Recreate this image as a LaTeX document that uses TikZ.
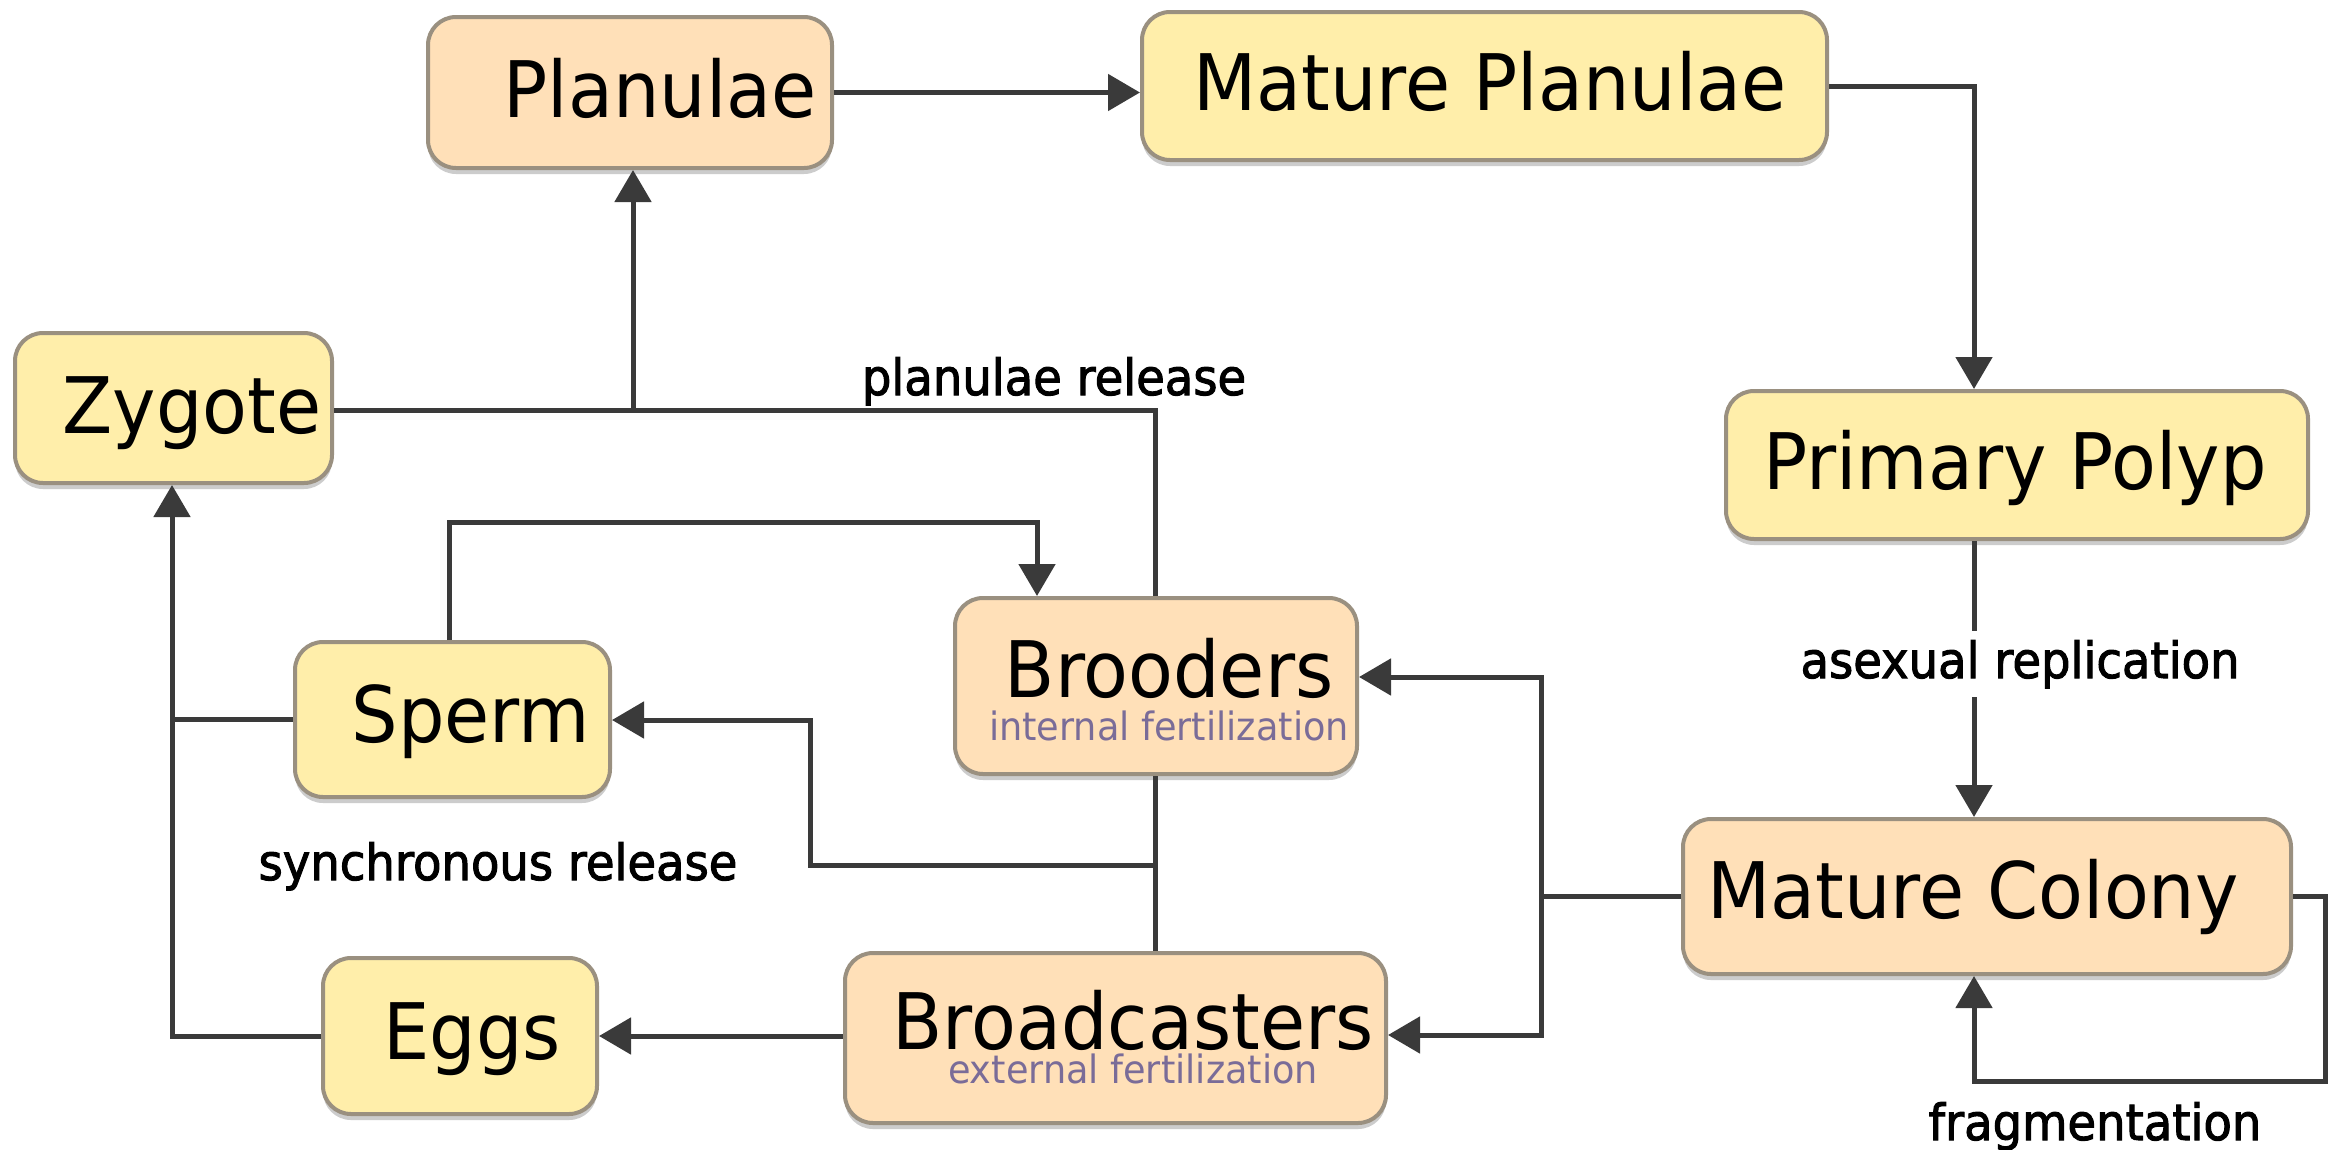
\documentclass[tikz,border=0pt]{standalone}
\usepackage{fontspec}
\setmainfont{DejaVu Sans}[FakeStretch=0.94]
\newfontfamily\lblfont{DejaVu Sans}[FakeStretch=0.93,FakeBold=2]
\newfontfamily\subfont{DejaVu Sans}[FakeStretch=0.94]
\usetikzlibrary{arrows.meta,shadows}
\definecolor{ylw}{HTML}{FFEEAA}
\definecolor{org}{HTML}{FFE0B8}
\definecolor{bord}{HTML}{9A9080}
\definecolor{ln}{HTML}{3A3A3A}
\definecolor{subc}{HTML}{7A6C98}
\begin{document}
\begin{tikzpicture}[x=1pt,y=-1pt,
  box/.style={draw=bord, line width=4pt, rounded corners=28pt, inner sep=0pt,
    general shadow={fill=black!20, shadow yshift=-6pt}},
  ybox/.style={box, fill=ylw},
  obox/.style={box, fill=org},
  big/.style={anchor=base, inner sep=0pt, font=\fontsize{78}{90}\selectfont},
  twoline/.style={anchor=north, inner sep=0pt, align=center},
  small/.style={anchor=base, inner sep=0pt, font=\lblfont\fontsize{50}{60}\selectfont},
  conn/.style={draw=ln, line width=5pt},
  arr/.style={conn, -{Triangle[length=32pt,width=36pt]}},
]
\newcommand{\subtxt}[1]{{\subfont\fontsize{39}{46}\selectfont\color{subc}#1}}
\fill[white] (0,0) rectangle (2338,1149);
\useasboundingbox (0,0) rectangle (2338,1149);

% boxes
\node[ybox, minimum width=317pt, minimum height=150pt] (zyg) at (173.5,408) {};
\node[obox, minimum width=404pt, minimum height=151pt] (plan) at (630,92.5) {};
\node[ybox, minimum width=685pt, minimum height=148pt] (mplan) at (1484.5,86) {};
\node[ybox, minimum width=582pt, minimum height=148pt] (pp) at (2017,465) {};
\node[ybox, minimum width=315pt, minimum height=155pt] (sperm) at (452.5,719.5) {};
\node[ybox, minimum width=274pt, minimum height=156pt] (eggs) at (460,1036) {};
\node[obox, minimum width=402pt, minimum height=176pt] (brood) at (1156,686) {};
\node[obox, minimum width=541pt, minimum height=170pt] (broad) at (1115.5,1038) {};
\node[obox, minimum width=608pt, minimum height=155pt] (mc) at (1987,896.5) {};

% junction coordinates
\coordinate (jPP) at (1974,0);
\coordinate (bT) at (1541,677);
\coordinate (bB) at (1541,1035);
\coordinate (fR) at (2325,1081);
\coordinate (jB) at (1155,865);
\coordinate (sR) at (810,720);
\coordinate (jL) at (172,0);
\coordinate (sT) at (449,522);
\coordinate (bN) at (1037,0);
\coordinate (jZ) at (1155,410);
\coordinate (jP) at (633,410);

% connectors
\draw[arr] (plan.east) -- (plan.east -| mplan.west);
\draw[arr] (mplan.east) -| (jPP |- pp.north);
\draw[arr] (pp.south -| jPP) -- (mc.north -| jPP);
\draw[arr] (mc.west) -| (bT) -- (bT -| brood.east);
\draw[arr] (mc.west -| bB) -- (bB) -- (bB -| broad.east);
\draw[arr] (mc.east) -| (fR) -| (mc.south -| jPP);
\draw[conn] (brood.south -| jB) -- (broad.north -| jB);
\draw[arr] (jB) -| (sR) -- (sR -| sperm.east);
\draw[arr] (broad.west |- eggs.east) -- (eggs.east);
\draw[arr] (eggs.west) -| (zyg.south -| jL);
\draw[conn] (sperm.west) -- (sperm.west -| jL);
\draw[arr] (sperm.north -| sT) -- (sT) -| (bN |- brood.north);
\draw[conn] (brood.north -| jZ) -- (jZ) -- (jZ -| zyg.east);
\draw[arr] (jP) -- (jP |- plan.south);

% box texts
\node[big] (tzyg) at (192,433) {Zygote};
\node[big] (tplan) at (660,117) {Planulae};
\node[big] (tmplan) at (1490,110) {Mature Planulae};
\node[big] (tpp) at (2015,489) {Primary Polyp};
\node[big] (tsperm) at (471,742) {Sperm};
\node[big] (teggs) at (472,1059) {Eggs};
\node[twoline, font=\fontsize{78}{43}\selectfont] (tbrood) at (1169,637.7)
  {Brooders\\\subtxt{internal fertilization}};
\node[twoline, font=\fontsize{78}{34}\selectfont] (tbroad) at (1133,989.7)
  {Broadcasters\\\subtxt{external fertilization}};
\node[big] (tmc) at (1973,918) {Mature Colony};

% connector labels
\node[small] (lplan) at (1054,395) {planulae release};
\node[small] (lsync) at (498,880) {synchronous release};
\node[small, fill=white, inner xsep=4pt, inner ysep=9pt] (lasex) at (2020,678) {asexual replication};
\node[small] (lfrag) at (2095,1140) {fragmentation};
\end{tikzpicture}
\end{document}
